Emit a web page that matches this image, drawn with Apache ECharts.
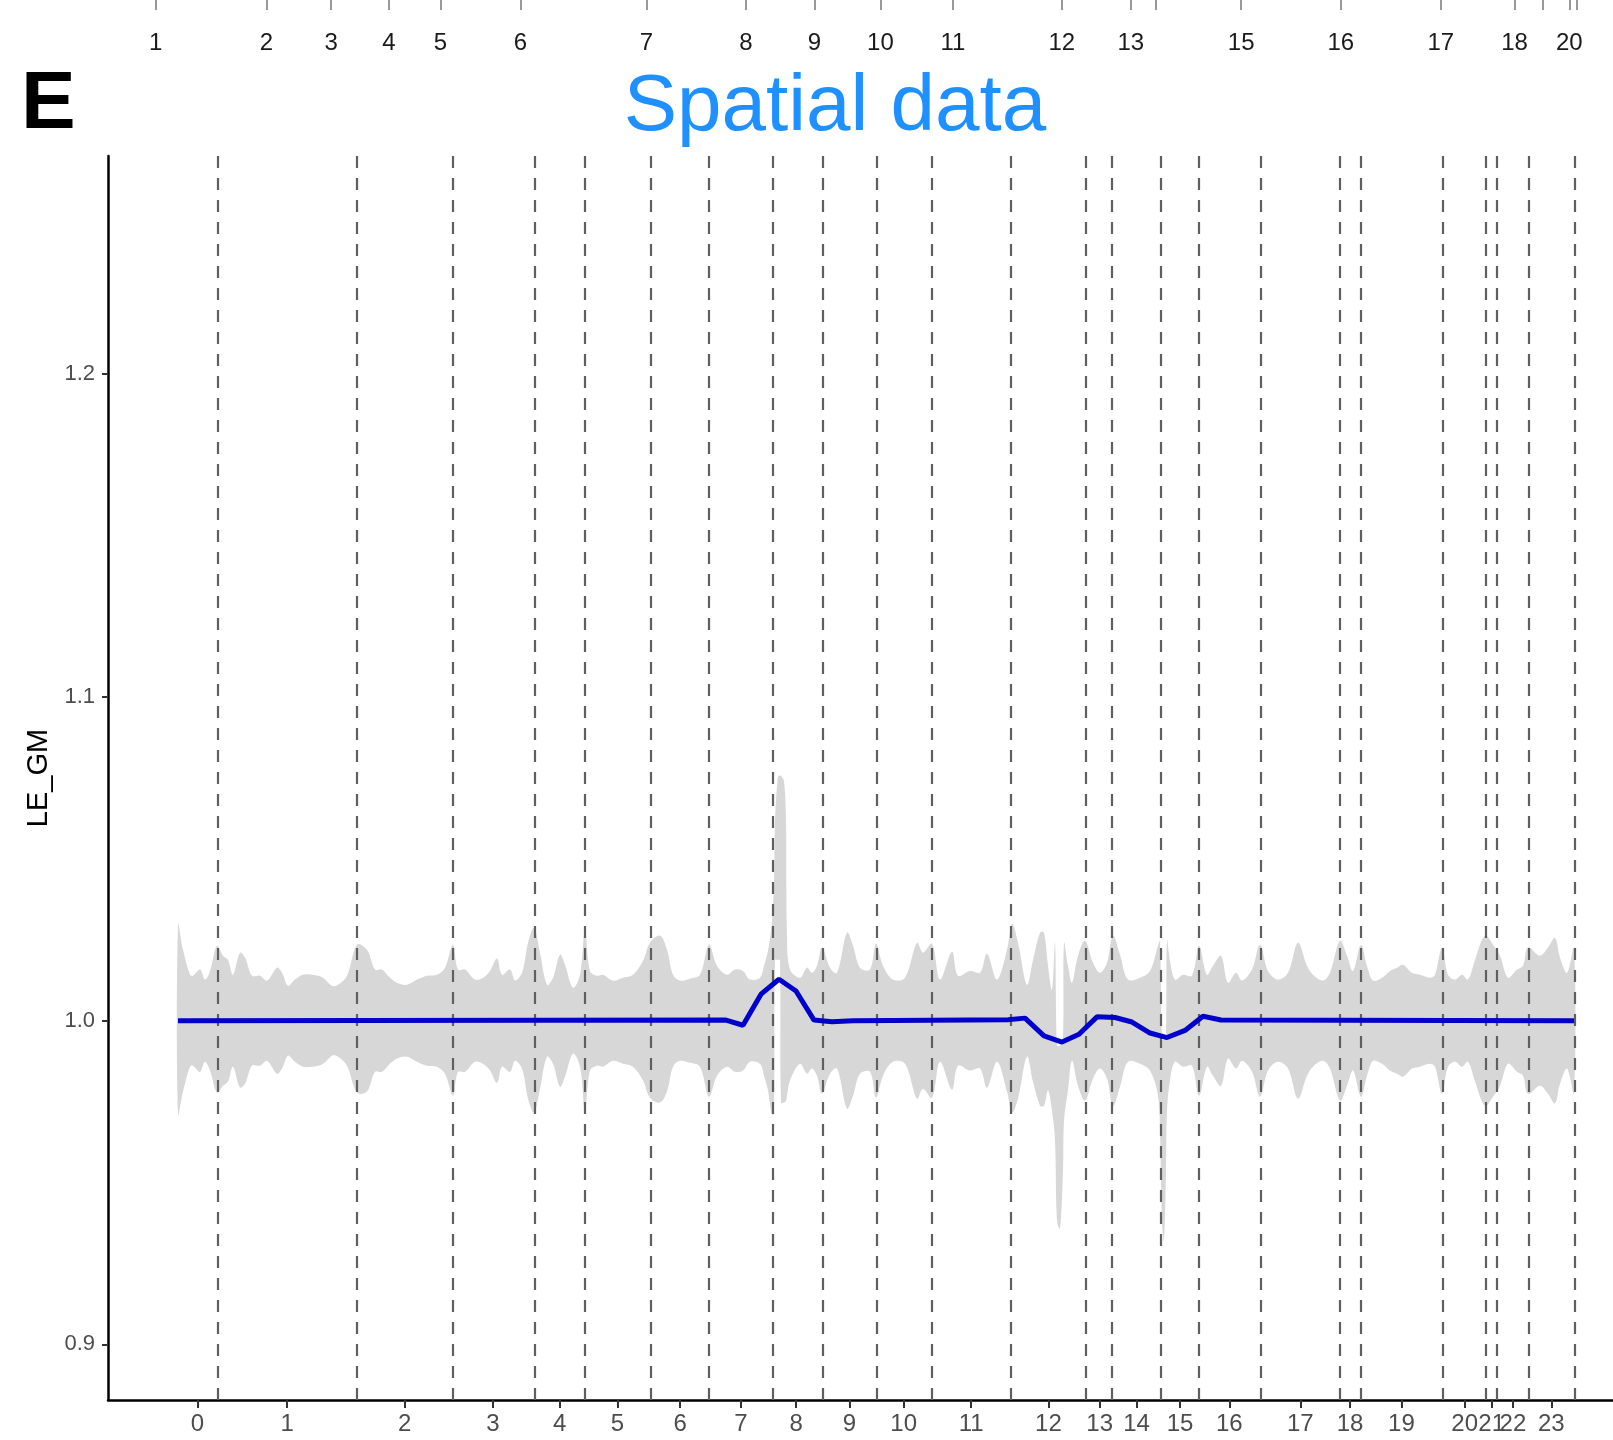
<!DOCTYPE html>
<html>
<head>
<meta charset="utf-8">
<script src="https://cdn.jsdelivr.net/npm/echarts@6/dist/echarts.min.js"></script>
<style>
  html, body { margin: 0; padding: 0; background: #fff; }
  #main { width: 1613px; height: 1440px; }
</style>
</head>
<body>
<div id="main"></div>
<script>
// x positions are genome bins (0 = first bin of the profile)
var bandPos = [0, 5, 12, 15, 22, 27, 32, 39, 45, 50, 55, 62, 67, 74, 82, 89, 99, 104, 110, 117, 125, 135, 145, 154, 160, 169,
  179, 189, 197, 204, 210, 219, 229, 239, 249, 259, 267, 275, 280, 287, 297, 305, 312, 319, 324, 332, 337, 344, 350, 356,
  362, 369, 375, 382, 387, 395, 402, 407, 412, 419, 425, 435, 445, 455, 465, 472, 482, 489, 495, 502, 512, 522, 531, 539,
  549, 557, 565, 572, 582, 586, 590, 594, 596, 597, 600, 602, 603, 606, 608, 609, 612, 622, 629, 634, 639, 644, 652, 659,
  669, 675, 682, 692, 698, 705, 715, 727, 739, 745, 754, 762, 774, 780, 792, 802, 809, 819, 829, 834, 840, 849, 855, 862,
  866, 870, 874, 877, 879, 882, 885, 886, 890, 894, 900, 907, 915, 922, 929, 935, 942, 950, 962, 972, 980, 982, 984, 986,
  988, 989, 992, 997, 1005, 1014, 1021, 1029, 1035, 1043, 1050, 1058, 1064, 1074, 1082, 1090, 1100, 1110, 1120, 1129,
  1135, 1145, 1152, 1162, 1169, 1175, 1183, 1189, 1195, 1204, 1212, 1219, 1225, 1234, 1242, 1252, 1257, 1264, 1270, 1277,
  1284, 1290, 1297, 1307, 1315, 1322, 1330, 1339, 1345, 1350, 1362, 1370, 1377, 1382, 1389, 1396];

var bandHigh = [1.0297, 1.0219, 1.0142, 1.0139, 1.0158, 1.0127, 1.0154, 1.0232, 1.0201, 1.0188, 1.0142, 1.0210, 1.0195,
  1.0139, 1.0139, 1.0124, 1.0164, 1.0148, 1.0108, 1.0127, 1.0142, 1.0142, 1.0133, 1.0108, 1.0111, 1.0139,
  1.0235, 1.0219, 1.0158, 1.0158, 1.0139, 1.0117, 1.0111, 1.0127, 1.0139, 1.0142, 1.0164, 1.0235, 1.0158, 1.0158,
  1.0127, 1.0133, 1.0154, 1.0192, 1.0142, 1.0158, 1.0124, 1.0148, 1.0241, 1.0287,
  1.0210, 1.0111, 1.0133, 1.0204, 1.0173, 1.0102, 1.0142, 1.0281, 1.0154, 1.0139, 1.0142, 1.0124, 1.0133, 1.0142,
  1.0185, 1.0241, 1.0263, 1.0219, 1.0142, 1.0124, 1.0130, 1.0142, 1.0235, 1.0170,
  1.0142, 1.0158, 1.0154, 1.0127, 1.0133, 1.0170, 1.0216, 1.0309, 1.0432, 1.0618, 1.0757, 1.0757, 1.0757, 1.0741,
  1.0618, 1.0263, 1.0158, 1.0133, 1.0164, 1.0148, 1.0170, 1.0226, 1.0164, 1.0148,
  1.0272, 1.0232, 1.0164, 1.0158, 1.0238, 1.0170, 1.0127, 1.0133, 1.0241, 1.0210, 1.0238, 1.0127, 1.0213, 1.0139,
  1.0154, 1.0148, 1.0207, 1.0127, 1.0219, 1.0300, 1.0241, 1.0111, 1.0188, 1.0272,
  1.0272, 1.0170, 1.0096, 1.0241, 0.9923, 0.9923, 0.9938, 1.0241, 1.0170, 1.0117, 1.0201, 1.0247, 1.0179, 1.0148,
  1.0179, 1.0263, 1.0204, 1.0127, 1.0133, 1.0154, 1.0232, 1.0247, 0.9941, 0.9941,
  0.9954, 1.0250, 1.0185, 1.0127, 1.0142, 1.0139, 1.0232, 1.0142, 1.0170, 1.0201, 1.0117, 1.0148, 1.0124, 1.0158,
  1.0235, 1.0154, 1.0127, 1.0148, 1.0241, 1.0170,
  1.0142, 1.0124, 1.0148, 1.0247, 1.0201, 1.0154, 1.0235, 1.0170, 1.0124, 1.0133, 1.0154, 1.0164, 1.0173, 1.0148,
  1.0142, 1.0133, 1.0142, 1.0226, 1.0142, 1.0127,
  1.0142, 1.0127, 1.0188, 1.0263, 1.0235, 1.0201, 1.0133, 1.0158, 1.0170, 1.0226, 1.0201, 1.0226, 1.0256, 1.0195,
  1.0148, 1.0226];

var bandLow = [0.9711, 0.9781, 0.9858, 0.9861, 0.9842, 0.9873, 0.9846, 0.9778, 0.9799, 0.9812, 0.9858, 0.9794, 0.9805,
  0.9861, 0.9861, 0.9876, 0.9836, 0.9852, 0.9892, 0.9873, 0.9858, 0.9858, 0.9867, 0.9892, 0.9889, 0.9861,
  0.9778, 0.9781, 0.9842, 0.9842, 0.9861, 0.9883, 0.9889, 0.9873, 0.9861, 0.9858, 0.9836, 0.9768, 0.9842, 0.9842,
  0.9873, 0.9867, 0.9846, 0.9808, 0.9858, 0.9842, 0.9876, 0.9852, 0.9759, 0.9716,
  0.9790, 0.9889, 0.9867, 0.9796, 0.9827, 0.9898, 0.9858, 0.9722, 0.9846, 0.9861, 0.9858, 0.9876, 0.9867, 0.9858,
  0.9815, 0.9762, 0.9747, 0.9781, 0.9858, 0.9876, 0.9870, 0.9858, 0.9765, 0.9830,
  0.9858, 0.9842, 0.9846, 0.9873, 0.9867, 0.9830, 0.9784, 0.9707, 0.9722, 1.0188, 1.0188, 1.0188, 0.9747, 0.9747,
  0.9753, 0.9768, 0.9815, 0.9867, 0.9836, 0.9852, 0.9830, 0.9774, 0.9836, 0.9852,
  0.9728, 0.9768, 0.9836, 0.9842, 0.9762, 0.9830, 0.9873, 0.9867, 0.9759, 0.9790, 0.9762, 0.9873, 0.9787, 0.9861,
  0.9846, 0.9852, 0.9793, 0.9873, 0.9781, 0.9716, 0.9759, 0.9889, 0.9812, 0.9737,
  0.9737, 0.9784, 0.9722, 0.9629, 0.9382, 0.9357, 0.9537, 0.9691, 0.9784, 0.9876, 0.9799, 0.9753, 0.9821, 0.9852,
  0.9821, 0.9737, 0.9796, 0.9873, 0.9867, 0.9846, 0.9768, 0.9660, 0.9382, 0.9320,
  0.9537, 0.9722, 0.9815, 0.9873, 0.9858, 0.9861, 0.9768, 0.9858, 0.9830, 0.9799, 0.9883, 0.9852, 0.9876, 0.9842,
  0.9765, 0.9846, 0.9873, 0.9852, 0.9759, 0.9830,
  0.9858, 0.9876, 0.9852, 0.9753, 0.9799, 0.9846, 0.9765, 0.9830, 0.9876, 0.9867, 0.9846, 0.9836, 0.9827, 0.9852,
  0.9858, 0.9867, 0.9858, 0.9774, 0.9858, 0.9873,
  0.9858, 0.9873, 0.9812, 0.9737, 0.9765, 0.9799, 0.9867, 0.9842, 0.9830, 0.9774, 0.9799, 0.9774, 0.9744, 0.9805,
  0.9852, 0.9774];

var linePos = [0, 548, 565, 583, 601, 618, 636, 654, 675, 830, 847, 866, 884, 901, 919, 937, 954, 972, 989, 1007, 1025, 1043, 1396];
var lineVal = [1.0, 1.0002, 0.9986, 1.0082, 1.0128, 1.0092, 1.0002, 0.9997, 1.0, 1.0003, 1.0008, 0.9953, 0.9934, 0.9958,
  1.0012, 1.0010, 0.9996, 0.9962, 0.9948, 0.9970, 1.0014, 1.0002, 1.0];

// segment borders (dashed lines)
var borders = [39.3, 179.1, 274.6, 356.7, 407.2, 472.5, 531.2, 595, 644.3, 698.7, 753.7, 832.5, 908.2, 934.1, 982.9,
  1021.2, 1082.9, 1161.7, 1183, 1264.9, 1308, 1318.3, 1351, 1396.6];

// bottom axis ticks
var bottomTickPos = [19.4, 109.2, 226.6, 314.9, 381.7, 439.3, 502.1, 562.8, 618.1, 671.3, 725.7, 793.1, 870.4, 921.7,
  958.5, 1002, 1051.3, 1122.3, 1172.1, 1223.4, 1286.7, 1313.7, 1334.9, 1373.3];
var bottomTickLabel = ['0', '1', '2', '3', '4', '5', '6', '7', '8', '9', '10', '11', '12', '13', '14', '15', '16', '17',
  '18', '19', '20', '21', '22', '23'];

// top axis ticks (some labels hidden in the original)
var topTickPos = [-22.4, 88.3, 153.1, 210.8, 262.3, 342.4, 468.4, 567.9, 636.5, 702.4, 775, 883.8, 952.8, 977.7, 1063.2,
  1162.8, 1262.8, 1336.5, 1364.5, 1391.3, 1398.7];
var topTickLabel = ['1', '2', '3', '4', '5', '6', '7', '8', '9', '10', '11', '12', '13', '', '15', '16', '17', '18', '',
  '20', ''];

var yTicks = [0.9, 1.0, 1.1, 1.2];

function lookup(posArr, labArr, v) {
  for (var i = 0; i < posArr.length; i++) {
    if (Math.abs(posArr[i] - v) < 1e-6) return labArr[i];
  }
  return '';
}

var lineData = linePos.map(function (p, i) { return [p, lineVal[i]]; });

var myChart = echarts.init(document.getElementById('main'), null, { renderer: 'canvas' });

var option = {
  animation: false,
  backgroundColor: '#ffffff',
  title: [{
    text: 'E',
    left: 16,
    top: 59,
    textStyle: { fontFamily: 'Liberation Sans', fontWeight: 'bold', fontSize: 82, color: '#000' }
  }, {
    text: 'Spatial data',
    left: 830,
    textAlign: 'center',
    top: 63,
    textStyle: { fontFamily: 'Liberation Sans', fontWeight: 'normal', fontSize: 80, color: '#1E90FF' }
  }],
  grid: { left: 108, right: 0, top: 156, bottom: 40, containLabel: false },
  xAxis: [{
    type: 'value',
    min: -70,
    max: 1435,
    position: 'bottom',
    splitLine: { show: false },
    axisLine: { show: true, onZero: false, lineStyle: { color: '#000', width: 2.5 } },
    axisTick: { show: true, customValues: bottomTickPos, length: 8, lineStyle: { color: '#333', width: 2 } },
    axisLabel: {
      customValues: bottomTickPos,
      margin: 12,
      fontFamily: 'Liberation Sans',
      fontSize: 24,
      color: '#4D4D4D',
      formatter: function (v) { return lookup(bottomTickPos, bottomTickLabel, v); }
    }
  }, {
    type: 'value',
    min: -70,
    max: 1435,
    position: 'top',
    offset: 156,
    splitLine: { show: false },
    axisLine: { show: false },
    axisTick: { show: true, inside: true, customValues: topTickPos, length: 10, lineStyle: { color: '#777', width: 1.5 } },
    axisLabel: {
      inside: true,
      customValues: topTickPos.filter(function (p, i) { return topTickLabel[i] !== ''; }),
      margin: 31,
      fontFamily: 'Liberation Sans',
      fontSize: 24,
      color: '#1a1a1a',
      formatter: function (v) { return lookup(topTickPos, topTickLabel, v); }
    }
  }],
  yAxis: {
    type: 'value',
    min: 0.8828,
    max: 1.2672,
    name: 'LE_GM',
    nameLocation: 'middle',
    nameGap: 55,
    nameTextStyle: { fontFamily: 'Liberation Sans', fontSize: 29, color: '#000' },
    splitLine: { show: false },
    axisLine: { show: true, onZero: false, lineStyle: { color: '#000', width: 2.5 } },
    axisTick: { show: true, customValues: yTicks, length: 6, lineStyle: { color: '#333', width: 2 } },
    axisLabel: {
      customValues: yTicks,
      margin: 13,
      fontFamily: 'Liberation Sans',
      fontSize: 22,
      color: '#4D4D4D',
      formatter: function (v) { return v.toFixed(1); }
    }
  },
  series: [{
    // ribbon drawn as one polygon: upper edge left to right, lower edge back
    name: 'band',
    type: 'custom',
    silent: true,
    z: 1,
    data: [[bandPos[0], bandHigh[0]]],
    renderItem: function (params, api) {
      var pts = [];
      for (var i = 0; i < bandPos.length; i++) pts.push(api.coord([bandPos[i], bandHigh[i]]));
      for (var j = bandPos.length - 1; j >= 0; j--) pts.push(api.coord([bandPos[j], bandLow[j]]));
      return { type: 'polygon', shape: { points: pts, smooth: 0.35 }, style: { fill: '#d7d7d7', stroke: null } };
    }
  }, {
    name: 'borders',
    type: 'line',
    data: [],
    z: 3,
    markLine: {
      silent: true,
      symbol: 'none',
      label: { show: false },
      lineStyle: { type: [12, 10], color: '#5f5f5f', width: 2.2 },
      data: borders.map(function (b) { return { xAxis: b }; })
    }
  }, {
    name: 'LE_GM',
    type: 'line',
    data: lineData,
    symbol: 'none',
    z: 10,
    lineStyle: { color: '#0000CD', width: 5 }
  }]
};

myChart.setOption(option);
</script>
</body>
</html>
